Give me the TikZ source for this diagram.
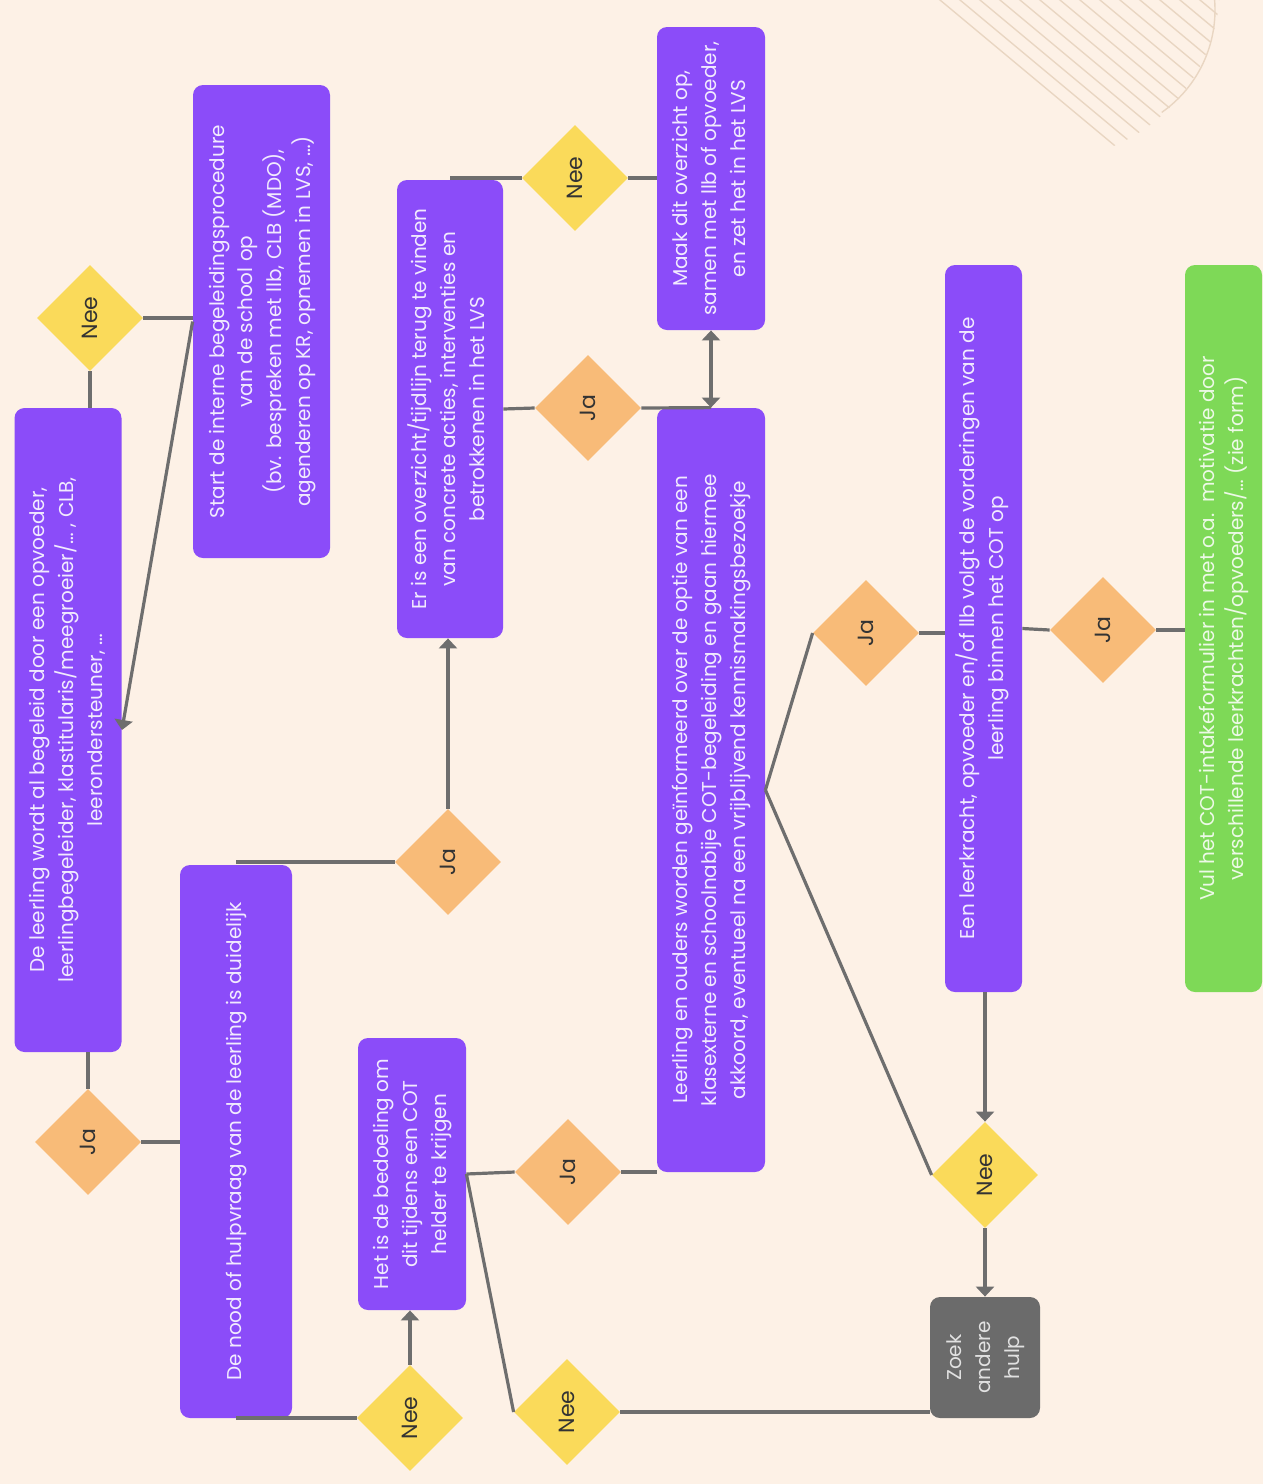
\documentclass[tikz,border=0pt]{standalone}
\usepackage{fontspec}
\setmainfont{Poppins}
\usepackage{graphicx}
\usetikzlibrary{positioning,arrows.meta,shapes.geometric}

\definecolor{bgcream}{HTML}{FDF1E6}
\definecolor{boxpurple}{HTML}{8B4CF9}
\definecolor{neeyellow}{HTML}{FADA5A}
\definecolor{jaorange}{HTML}{F8BB78}
\definecolor{cotgreen}{HTML}{7ED957}
\definecolor{zoekgray}{HTML}{6B6B6B}
\definecolor{linegray}{HTML}{6E6E6E}
\definecolor{decoline}{HTML}{E9D6C2}

\newcommand{\vtext}[1]{\rotatebox{90}{\renewcommand{\arraystretch}{1.2}\begin{tabular}{@{}c@{}}#1\end{tabular}}}

\begin{document}
\begin{tikzpicture}[>={Triangle[length=5pt,width=9pt]}, x=0.5pt, y=-0.5pt,
    box/.style={fill=boxpurple, rounded corners=5pt, inner sep=0pt,
        text=white!88!boxpurple, font=\fontsize{10}{12}\selectfont},
    decision/.style={diamond, aspect=1, minimum width=53pt, minimum height=53pt,
        inner sep=0pt, text=black!80, font=\fontsize{11}{13}\selectfont},
    nee/.style={decision, fill=neeyellow},
    ja/.style={decision, fill=jaorange},
    conn/.style={draw=linegray, line width=1.6pt},
    deco/.style={draw=decoline, line width=0.7pt}]
    \useasboundingbox[fill=bgcream] (0,0) rectangle (1263,1484);

    % background decoration
    \draw[deco] (1090,10) ++(-5:125) arc (-5:55:125);
    \begin{scope}
        \clip (1045,-15) circle (175);
        \foreach \k in {0,...,14}
            \draw[deco] (760+\k*20,-150) -- ++(360,300);
    \end{scope}

    % boxes
    \node[box, minimum width=53.5pt, minimum height=322pt] (begeleid) at (68,730)
        {\vtext{De leerling wordt al begeleid door een opvoeder,\\
        leerlingbegeleider, klastitularis/meegroeier/\dots\ , CLB,\\
        leerondersteuner, \dots}};
    \node[box, minimum width=68.5pt, minimum height=236.5pt] (intern) at (261.5,321.5)
        {\vtext{Start de interne begeleidingsprocedure\\
        van de school op\\
        (bv. bespreken met llb, CLB (MDO),\\
        agenderen op KR, opnemen in LVS, \dots)}};
    \node[box, minimum width=56pt, minimum height=276.5pt] (hulpvraag) at (236,1141.5)
        {\vtext{De nood of hulpvraag van de leerling is duidelijk}};
    \node[box, minimum width=53pt, minimum height=229pt] (overzicht) at (450,409)
        {\vtext{Er is een overzicht/tijdlijn terug te vinden\\
        van concrete acties, interventies en\\
        betrokkenen in het LVS}};
    \node[box, minimum width=54pt, minimum height=151.5pt] (maak) at (711,178.5)
        {\vtext{Maak dit overzicht op,\\
        samen met llb of opvoeder,\\
        en zet het in het LVS}};
    \node[box, minimum width=54pt, minimum height=382pt] (informeren) at (711,790)
        {\vtext{Leerling en ouders worden geïnformeerd over de optie van een\\
        klasexterne en schoolnabije COT-begeleiding en gaan hiermee\\
        akkoord, eventueel na een vrijblijvend kennismakingsbezoekje}};
    \node[box, minimum width=54pt, minimum height=136pt] (bedoeling) at (412,1174)
        {\vtext{Het is de bedoeling om\\
        dit tijdens een COT\\
        helder te krijgen}};
    \node[box, minimum width=38.5pt, minimum height=363.5pt] (volgen) at (983.5,628.5)
        {\vtext{Een leerkracht, opvoeder en/of llb volgt de vorderingen van de\\
        leerling binnen het COT op}};
    \node[box, fill=cotgreen, text=white!85!cotgreen, minimum width=38.5pt, minimum height=363.5pt] (intake) at (1223.5,628.5)
        {\vtext{Vul het COT-intakeformulier in met o.a.\ \ motivatie door\\
        verschillende leerkrachten/opvoeders/\dots\ (zie form)}};
    \node[box, fill=zoekgray, text=white!80!zoekgray, minimum width=55pt, minimum height=60.5pt] (zoek) at (985,1357.5)
        {\vtext{Zoek\\andere\\hulp}};

    % decisions
    \node[nee] (nee_1) at (90,318) {\rotatebox{90}{Nee}};
    \node[ja] (ja_1) at (88,1142) {\rotatebox{90}{Ja}};
    \node[ja] (ja_2) at (448,862) {\rotatebox{90}{Ja}};
    \node[nee] (nee_2) at (575,178) {\rotatebox{90}{Nee}};
    \node[ja] (ja_3) at (588,408) {\rotatebox{90}{Ja}};
    \node[nee] (nee_3) at (410,1418) {\rotatebox{90}{Nee}};
    \node[ja] (ja_4) at (568,1172) {\rotatebox{90}{Ja}};
    \node[nee] (nee_4) at (567,1412) {\rotatebox{90}{Nee}};
    \node[ja] (ja_5) at (866,633) {\rotatebox{90}{Ja}};
    \node[nee] (nee_5) at (985,1175) {\rotatebox{90}{Nee}};
    \node[ja] (ja_6) at (1103,630) {\rotatebox{90}{Ja}};

    % connectors
    \draw[conn] (nee_1.south |- begeleid.north) -- (nee_1.south);
    \draw[conn] (nee_1.east) -- (nee_1.east -| intern.west);
    \draw[conn,->] (intern.west) -- (begeleid.east);
    \draw[conn] (ja_1.north |- begeleid.south) -- (ja_1.north);
    \draw[conn] (ja_1.east) -- (ja_1.east -| hulpvraag.west);
    \draw[conn] (ja_2.west -| hulpvraag.north) -- (ja_2.west);
    \draw[conn,->] (ja_2.north) -- (ja_2.north |- overzicht.south);
    \draw[conn] (nee_2.west -| overzicht.north) -- (nee_2.west);
    \draw[conn] (nee_2.east) -- (nee_2.east -| maak.west);
    \draw[conn] (overzicht.east) -- (ja_3.west);
    \draw[conn] (ja_3.east) -- (informeren.north);
    \draw[conn,<->] (maak.south) -- (informeren.north);
    \draw[conn] (nee_3.west -| hulpvraag.south) -- (nee_3.west);
    \draw[conn,->] (nee_3.north) -- (nee_3.north |- bedoeling.south);
    \draw[conn] (bedoeling.east) -- (ja_4.west);
    \draw[conn] (ja_4.east) -- (ja_4.east -| informeren.west);
    \draw[conn] (bedoeling.east) -- (nee_4.west);
    \draw[conn] (nee_4.east) -- (nee_4.east -| zoek.west);
    \draw[conn] (informeren.east) -- (ja_5.west);
    \draw[conn] (informeren.east) -- (nee_5.west);
    \draw[conn] (ja_5.east) -- (ja_5.east -| volgen.west);
    \draw[conn,->] (nee_5.north |- volgen.south) -- (nee_5.north);
    \draw[conn,->] (nee_5.south) -- (nee_5.south |- zoek.north);
    \draw[conn] (volgen.east) -- (ja_6.west);
    \draw[conn] (ja_6.east) -- (ja_6.east -| intake.west);
\end{tikzpicture}
\end{document}
